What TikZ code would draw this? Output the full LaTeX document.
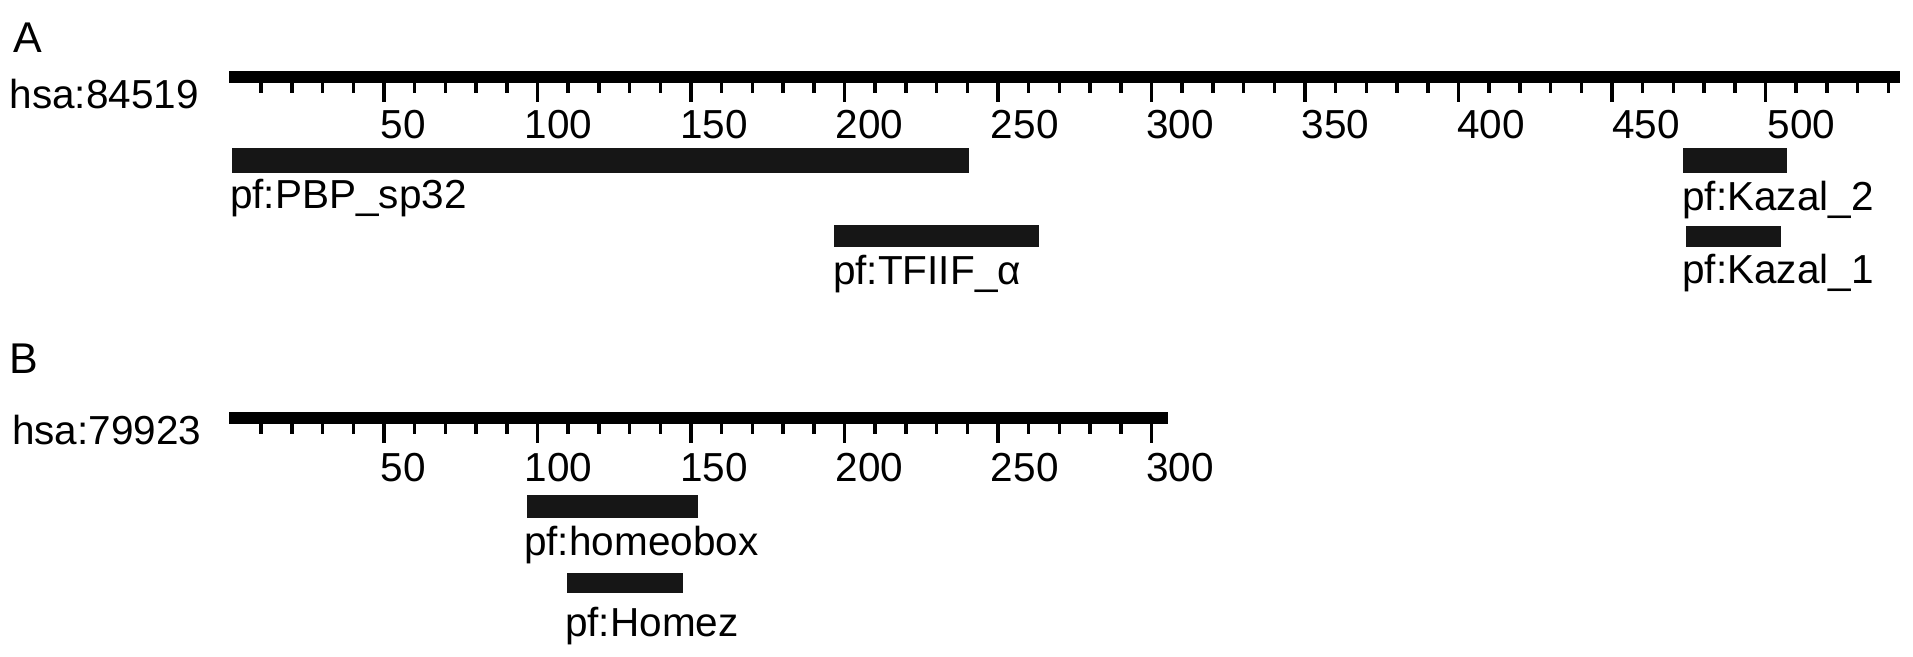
\documentclass[tikz,border=0pt]{standalone}
\usepackage{fontspec}
\setmainfont{Liberation Sans}
\definecolor{dom}{HTML}{161616}
\begin{document}
\begin{tikzpicture}[x=1pt,y=-1pt,
  lbl/.style={font=\fontsize{40.5}{48}\selectfont, inner sep=0pt, anchor=base west},
  panel/.style={font=\fontsize{43}{50}\selectfont, inner sep=0pt, anchor=base west},
  num/.style={font=\fontsize{40.5}{48}\selectfont, inner sep=0pt, anchor=base},
  axisbar/.style={fill=black},
  tickline/.style={line width=3.5pt, black},
  dombar/.style={fill=dom}]
\useasboundingbox[fill=white] (0,0) rectangle (1913,656);

% ---------- Panel A ----------
\node[panel] (labA) at (13,52) {A};
\node[lbl] (protA) at (9.5,108) {hsa:84519};
\fill[axisbar] (229,70.5) rectangle (1900,82.7);
\foreach \n in {10,20,...,540}
  \draw[tickline] ({230.5+3.07*\n},82) -- ++(0,10.5);
\foreach \n in {50,100,...,500}{
  \draw[tickline] ({230.5+3.07*\n},82) -- ++(0,19.5);
  \node[num] (ta\n) at ({248+3.107*\n},138) {\n};
}
% domains A
\fill[dombar] (231.6,148.3) rectangle (969,172.5);
\node[lbl] (dPBP) at (230,208.5) {pf:PBP\_sp32};
\fill[dombar] (834,225) rectangle (1039,246.7);
\node[lbl] (dTF) at (833,284) {pf:TFIIF\_α};
\fill[dombar] (1683,148.3) rectangle (1787,172.7);
\node[lbl] (dK2) at (1682,210) {pf:Kazal\_2};
\fill[dombar] (1686,226) rectangle (1781,247);
\node[lbl] (dK1) at (1682,283.5) {pf:Kazal\_1};

% ---------- Panel B ----------
\node[panel] (labB) at (9,373) {B};
\node[lbl] (protB) at (12,444) {hsa:79923};
\fill[axisbar] (229,411.7) rectangle (1168,424);
\foreach \n in {10,20,...,300}
  \draw[tickline] ({230.5+3.07*\n},423.5) -- ++(0,10);
\foreach \n in {50,100,...,300}{
  \draw[tickline] ({230.5+3.07*\n},423.5) -- ++(0,19.5);
  \node[num] (tb\n) at ({248+3.107*\n},481) {\n};
}
% domains B
\fill[dombar] (526.7,495) rectangle (698,518.3);
\node[lbl] (dHB) at (524,555) {pf:homeobox};
\fill[dombar] (566.7,572.7) rectangle (683.3,592.7);
\node[lbl] (dHZ) at (565,636.5) {pf:Homez};
\end{tikzpicture}
\end{document}
